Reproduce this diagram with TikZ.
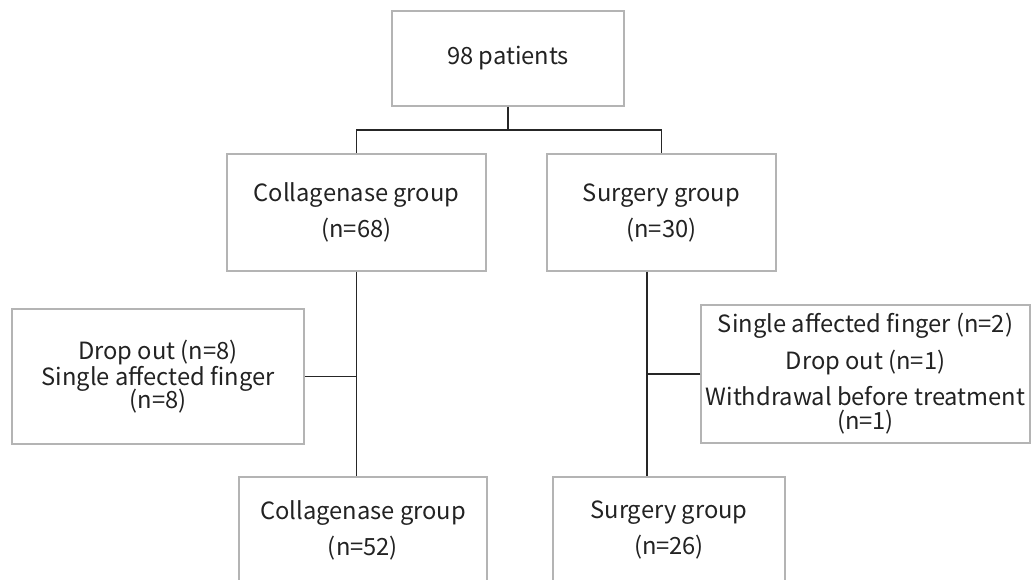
\documentclass[tikz,border=0pt]{standalone}
\usepackage{fontspec}
\setmainfont{Noto Sans CJK JP}
\usepackage{tikz}
\usetikzlibrary{positioning, calc}
\definecolor{boxgray}{HTML}{B4B4B4}
\definecolor{inkgray}{HTML}{222222}
\newcommand{\boxfont}{\fontsize{13.5}{13}\selectfont\lineskiplimit=-20pt\relax}

\begin{document}
\begin{tikzpicture}[x=0.2mm, y=-0.2mm,
    box/.style={draw=boxgray, line width=0.85pt, text=inkgray, align=center, inner sep=0pt,
                font=\boxfont},
    link/.style={draw=black!85, line width=0.75pt}]
  \clip (0,0) rectangle (1033,580);
  \useasboundingbox (0,0) rectangle (1033,580);

  % Boites
  \node[box, minimum width=46.4mm, minimum height=19mm] (total) at (508,58.5) {98 patients};
  \node[box, minimum width=51.8mm, minimum height=23.4mm] (colla) at (356.5,212.5)
    {Collagenase group\\[7.5pt](n=68)};
  \node[box, minimum width=45.8mm, minimum height=23.4mm] (surg) at (661.5,212.5)
    {Surgery group\\[7.5pt](n=30)};
  \node[box, minimum width=58.4mm, minimum height=27mm] (exclA) at (158,376.5)
    {Drop out (n=8)\\[2pt]Single affected finger\\[0.3pt](n=8)};
  \node[box, minimum width=65.8mm, minimum height=27.6mm] (exclB) at (865.5,374)
    {Single affected finger (n=2)\\[8pt]Drop out (n=1)\\[7.5pt]Withdrawal before treatment\\[0.7pt](n=1)};
  \node[box, minimum width=49.6mm, minimum height=21.2mm] (collaF) at (363,530)
    {Collagenase group\\[7.5pt](n=52)};
  \node[box, minimum width=46.4mm, minimum height=21.2mm] (surgF) at (669,530)
    {Surgery group\\[7.5pt](n=26)};

  % Branchement principal
  \coordinate (split) at (508,130);
  \draw[link] (total.south) -- (split);
  \draw[link] (colla.north) |- (split) -| (surg.north);

  % Branche collagenase
  \coordinate (ltrunk) at (colla.south);
  \draw[link] (ltrunk) -- (ltrunk |- collaF.north);
  \draw[link] (exclA.east) -- (exclA.east -| ltrunk);

  % Branche chirurgie
  \coordinate (rtrunk) at ([xshift=-2.9mm]surg.south);
  \draw[link] (rtrunk) -- (rtrunk |- surgF.north);
  \draw[link] (exclB.west) -- (exclB.west -| rtrunk);
\end{tikzpicture}
\end{document}
